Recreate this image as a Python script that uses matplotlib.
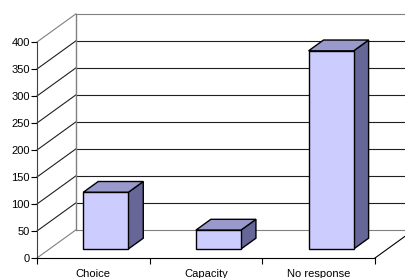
import matplotlib
matplotlib.use("Agg")
import matplotlib.pyplot as plt
from matplotlib.patches import Polygon

plt.rcParams['font.family'] = ['Liberation Sans', 'DejaVu Sans']

categories = ['Choice', 'Capacity', 'No response']
values = [105, 35, 367]
y_ticks = [0, 50, 100, 150, 200, 250, 300, 350, 400]

# 3D look: offset of the back plane in data units (x, y)
DX, DY = 0.345, 52.0
BAR_W = 0.4
BAR_Z0, BAR_Z1 = 0.32, 0.705   # front/back depth fraction of bars

FRONT = '#CCCCFF'
TOP = '#9999CC'
SIDE = '#666699'
WALL = '#808080'


def p(x, y, z):
    return (x + z * DX, y + z * DY)


fig = plt.figure(figsize=(4.05, 2.78), dpi=100)
ax = fig.add_axes([37 / 405, 20 / 278, 338 / 405, 216 / 278])
ax.set_xlim(0, 3)
ax.set_ylim(0, 400)
ax.patch.set_alpha(0)

# back wall, gridlines, side wall diagonals
ymax = y_ticks[-1]
for v in y_ticks:
    col = WALL if v in (0, ymax) else '#202020'
    ax.plot([p(0, v, 1)[0], p(3, v, 1)[0]], [p(0, v, 1)[1], p(3, v, 1)[1]],
            color=col, lw=0.8, clip_on=False, zorder=1)
    ax.plot([0, p(0, v, 1)[0]], [v, p(0, v, 1)[1]],
            color=col, lw=0.8, clip_on=False, zorder=1)
ax.plot([p(0, 0, 1)[0]] * 2, [p(0, 0, 1)[1], p(0, ymax, 1)[1]],
        color=WALL, lw=1, clip_on=False, zorder=1)
# floor right edge
ax.plot([3, p(3, 0, 1)[0]], [0, p(3, 0, 1)[1]], color='black', lw=0.8,
        clip_on=False, zorder=1)

# bars
for i, v in enumerate(values):
    x0 = i + 0.5 - BAR_W / 2
    x1 = i + 0.5 + BAR_W / 2
    front = [p(x0, 0, BAR_Z0), p(x1, 0, BAR_Z0), p(x1, v, BAR_Z0), p(x0, v, BAR_Z0)]
    top = [p(x0, v, BAR_Z0), p(x1, v, BAR_Z0), p(x1, v, BAR_Z1), p(x0, v, BAR_Z1)]
    side = [p(x1, 0, BAR_Z0), p(x1, 0, BAR_Z1), p(x1, v, BAR_Z1), p(x1, v, BAR_Z0)]
    for poly, c in [(side, SIDE), (top, TOP), (front, FRONT)]:
        ax.add_patch(Polygon(poly, closed=True, facecolor=c, edgecolor='black',
                             lw=1, clip_on=False, zorder=3))

for s in ['top', 'right']:
    ax.spines[s].set_visible(False)
ax.spines['left'].set_color('#404040')
ax.spines['bottom'].set_color('black')
ax.set_yticks(y_ticks)
ax.set_xticks([0, 1, 2, 3])
ax.set_xticklabels([])
ax.set_xticks([0.5, 1.5, 2.5], minor=True)
ax.set_xticklabels(categories, minor=True)
ax.tick_params(axis='x', which='major', length=4, direction='out')
ax.tick_params(axis='x', which='minor', length=0, pad=8, labelsize=8)
ax.tick_params(axis='y', length=4, direction='out', labelsize=8, pad=1)

fig.savefig('out.png', dpi=100)
